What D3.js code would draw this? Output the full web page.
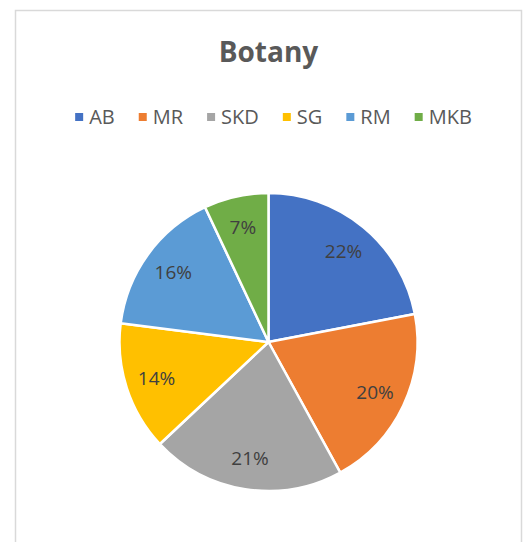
<!DOCTYPE html>
<html>
<head>
  <meta charset="UTF-8" />
  <title>Botany</title>
  <script src="https://d3js.org/d3.v7.min.js"></script>
  <style>
    body { margin: 0; background: #fff; }
    text { font-family: "Open Sans", sans-serif; }
  </style>
</head>
<body>
  <svg id="chart" width="526" height="542"></svg>
  <script>
    // data
    const categories = ["AB", "MR", "SKD", "SG", "RM", "MKB"];
    const values = [22, 20, 21, 14, 16, 7];
    const colors = ["#4472C4", "#ED7D31", "#A5A5A5", "#FFC000", "#5B9BD5", "#70AD47"];

    const width = 526, height = 542;
    const cx = 268.5, cy = 342, radius = 149;

    const svg = d3.select("#chart");

    // chart area border (runs off the bottom of the picture)
    svg.append("rect")
      .attr("x", 15.5).attr("y", 10.5)
      .attr("width", 506).attr("height", 600)
      .attr("fill", "#fff")
      .attr("stroke", "#d9d9d9")
      .attr("stroke-width", 1.5);

    svg.append("text")
      .attr("x", cx).attr("y", 62)
      .attr("text-anchor", "middle")
      .attr("font-size", 28)
      .attr("font-weight", "bold")
      .attr("fill", "#595959")
      .text("Botany");

    // legend, laid out from measured text widths
    const legend = svg.append("g");
    const items = legend.selectAll("g")
      .data(categories)
      .join("g");
    items.append("rect")
      .attr("width", 8).attr("height", 8)
      .attr("y", -4)
      .attr("fill", (d, i) => colors[i]);
    items.append("text")
      .attr("x", 14)
      .attr("dy", "0.35em")
      .attr("font-size", 20)
      .attr("fill", "#595959")
      .text(d => d);
    let xPos = 0;
    items.each(function() {
      const w = d3.select(this).select("text").node().getComputedTextLength();
      d3.select(this).attr("transform", `translate(${xPos},0)`);
      xPos += 14 + w + 24;
    });
    const legendWidth = xPos - 24;
    legend.attr("transform", `translate(${cx + 5 - legendWidth / 2},117)`);

    // pie
    const pie = d3.pie().sort(null).value(d => d);
    const arc = d3.arc().innerRadius(0).outerRadius(radius);
    const labelArc = d3.arc().innerRadius(radius * 0.79).outerRadius(radius * 0.79);
    const total = d3.sum(values);

    const g = svg.append("g").attr("transform", `translate(${cx},${cy})`);
    const arcs = pie(values);

    g.selectAll("path")
      .data(arcs)
      .join("path")
      .attr("d", arc)
      .attr("fill", (d, i) => colors[i])
      .attr("stroke", "#fff")
      .attr("stroke-width", 2.5)
      .attr("stroke-linejoin", "round");

    g.selectAll("text.label")
      .data(arcs)
      .join("text")
      .attr("class", "label")
      .attr("transform", d => `translate(${labelArc.centroid(d)})`)
      .attr("text-anchor", "middle")
      .attr("dy", "0.35em")
      .attr("font-size", 19)
      .attr("fill", "#404040")
      .text(d => Math.round(d.data / total * 100) + "%");
  </script>
</body>
</html>
